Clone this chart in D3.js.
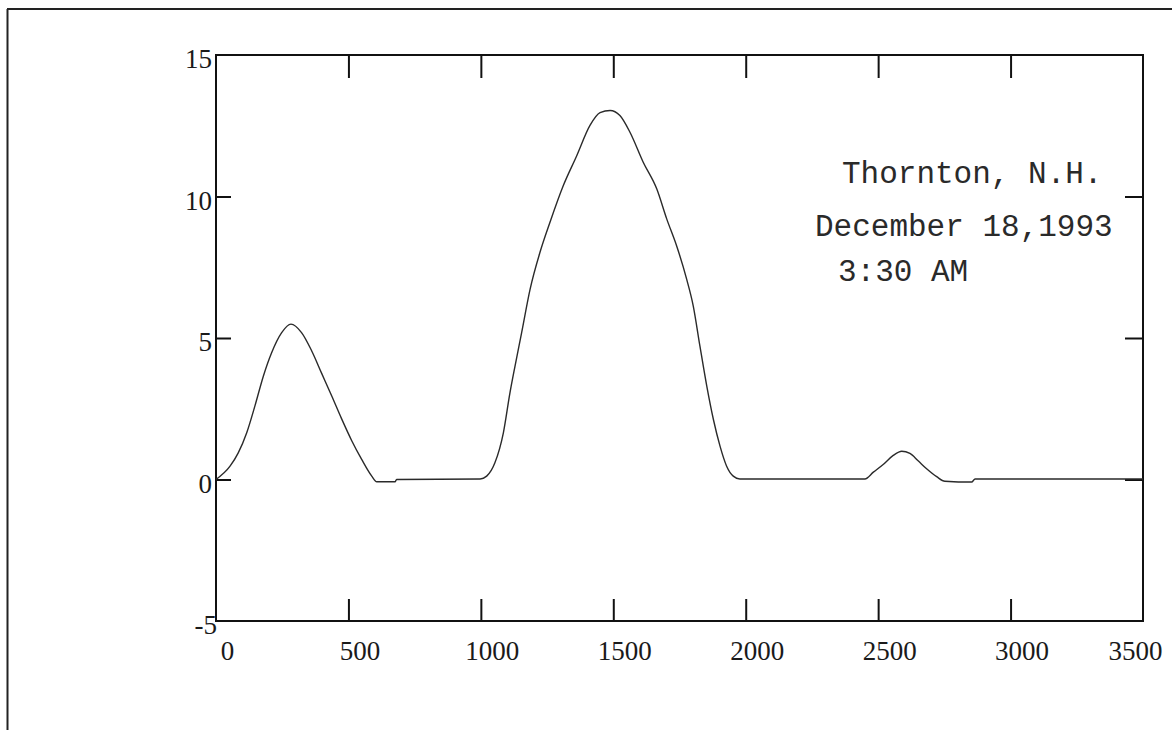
<!DOCTYPE html>
<html>
<head>
<meta charset="utf-8">
<script src="https://cdn.jsdelivr.net/npm/d3@7"></script>
<style>
  html, body { margin: 0; padding: 0; background: #fff; }
  svg { display: block; }
</style>
</head>
<body>
<svg id="chart" width="1172" height="730"></svg>
<script>
// Sampled trace: horizontal position and signal level
const sampleX = [0, 53, 84, 116, 147, 179, 210, 248, 283, 323, 361, 399, 437, 474, 512, 550, 588, 607, 676, 682,
  997, 1022, 1053, 1085, 1110, 1129, 1154, 1186, 1223, 1261, 1311, 1362, 1412, 1450, 1488, 1525, 1563, 1613, 1664,
  1702, 1739, 1777, 1802, 1827, 1853, 1878, 1903, 1928, 1953, 1978,
  2450, 2482, 2519, 2557, 2589, 2620, 2652, 2683, 2721, 2752, 2853, 2866, 3500];
const sampleY = [0, 0.47, 0.94, 1.65, 2.6, 3.66, 4.48, 5.19, 5.49, 5.19, 4.55, 3.75, 2.95, 2.15, 1.38, 0.71, 0.12, -0.08, -0.08, 0,
  0.02, 0.12, 0.59, 1.65, 3.07, 4.01, 5.19, 6.73, 8.02, 9.09, 10.38, 11.44, 12.51, 12.96, 13.04, 12.86, 12.27, 11.21, 10.27,
  9.2, 8.26, 7.08, 6.13, 4.72, 3.3, 2.12, 1.18, 0.47, 0.12, 0.02,
  0.02, 0.26, 0.53, 0.85, 1.0, 0.92, 0.65, 0.38, 0.1, -0.06, -0.09, 0.02, 0.02];

const xTicks = [0, 500, 1000, 1500, 2000, 2500, 3000, 3500];
const yTicks = [-5, 0, 5, 10, 15];
const innerYTicks = [0, 5, 10];
const innerXTicks = [500, 1000, 1500, 2000, 2500, 3000];
const noteLines = ["Thornton, N.H.", "December 18,1993", "3:30 AM"];

const svg = d3.select("#chart");

// page frame lines (top and left edges of the sheet)
svg.append("line").attr("x1", 7).attr("y1", 9).attr("x2", 1172).attr("y2", 9)
  .attr("stroke", "#222").attr("stroke-width", 2);
svg.append("line").attr("x1", 7.5).attr("y1", 9).attr("x2", 7.5).attr("y2", 730)
  .attr("stroke", "#222").attr("stroke-width", 2);

const x = d3.scaleLinear().domain([0, 3500]).range([216, 1143]);
const y = d3.scaleLinear().domain([-5, 15]).range([621, 55]);

const serif = "'Liberation Serif', 'Times New Roman', serif";

// bottom axis: ticks pointing up into the plot, labels below
const gx = svg.append("g").attr("transform", `translate(0,${y(-5)})`)
  .call(d3.axisBottom(x).tickValues(xTicks).tickSizeInner(-22).tickSizeOuter(0)
    .tickPadding(0).tickFormat(d => String(d)));
gx.select(".domain").remove();
gx.selectAll("line").attr("stroke", "#111").attr("stroke-width", 2)
  .filter(d => innerXTicks.indexOf(d) < 0).remove();
gx.selectAll("text")
  .attr("y", 39).attr("dy", null)
  .attr("dx", d => d === 3500 ? -8 : 11)
  .attr("font-family", serif).attr("font-size", 27).attr("fill", "#1a1a1a");

// top axis: ticks pointing down, no labels
const gt = svg.append("g").attr("transform", `translate(0,${y(15)})`)
  .call(d3.axisTop(x).tickValues(innerXTicks).tickSizeInner(-23).tickSizeOuter(0).tickFormat(""));
gt.select(".domain").remove();
gt.selectAll("line").attr("stroke", "#111").attr("stroke-width", 2);

// left axis with labels
const gy = svg.append("g").attr("transform", `translate(${x(0)},0)`)
  .call(d3.axisLeft(y).tickValues(yTicks).tickSizeInner(-15).tickSizeOuter(0)
    .tickPadding(4).tickFormat(d => String(d)));
gy.select(".domain").remove();
gy.selectAll("line").attr("stroke", "#111").attr("stroke-width", 2)
  .filter(d => innerYTicks.indexOf(d) < 0).remove();
gy.selectAll("text")
  .attr("x", d => d === -5 ? 1 : -4)
  .attr("dy", "0.48em")
  .attr("font-family", serif).attr("font-size", 27).attr("fill", "#1a1a1a");

// right axis: ticks only
const gr = svg.append("g").attr("transform", `translate(${x(3500)},0)`)
  .call(d3.axisRight(y).tickValues(innerYTicks).tickSizeInner(-18).tickSizeOuter(0).tickFormat(""));
gr.select(".domain").remove();
gr.selectAll("line").attr("stroke", "#111").attr("stroke-width", 2);

// plot frame
svg.append("rect")
  .attr("x", x(0)).attr("y", y(15))
  .attr("width", x(3500) - x(0)).attr("height", y(-5) - y(15))
  .attr("fill", "none").attr("stroke", "#111").attr("stroke-width", 2);

// trace
const pts = sampleX.map((v, i) => [v, sampleY[i]]);
const line = d3.line().x(d => x(d[0])).y(d => y(d[1])).curve(d3.curveMonotoneX);
svg.append("path").datum(pts)
  .attr("d", line)
  .attr("fill", "none").attr("stroke", "#2a2a2a").attr("stroke-width", 1.4);

// annotation block
const mono = "'Liberation Mono', 'Courier New', monospace";
const noteX = [842, 815, 838];
const noteY = [183, 236, 281];
svg.append("g").selectAll("text").data(noteLines).join("text")
  .attr("x", (d, i) => noteX[i]).attr("y", (d, i) => noteY[i])
  .attr("font-family", mono).attr("font-size", 31).attr("fill", "#2a2a2a")
  .attr("xml:space", "preserve")
  .text(d => d);
</script>
</body>
</html>
